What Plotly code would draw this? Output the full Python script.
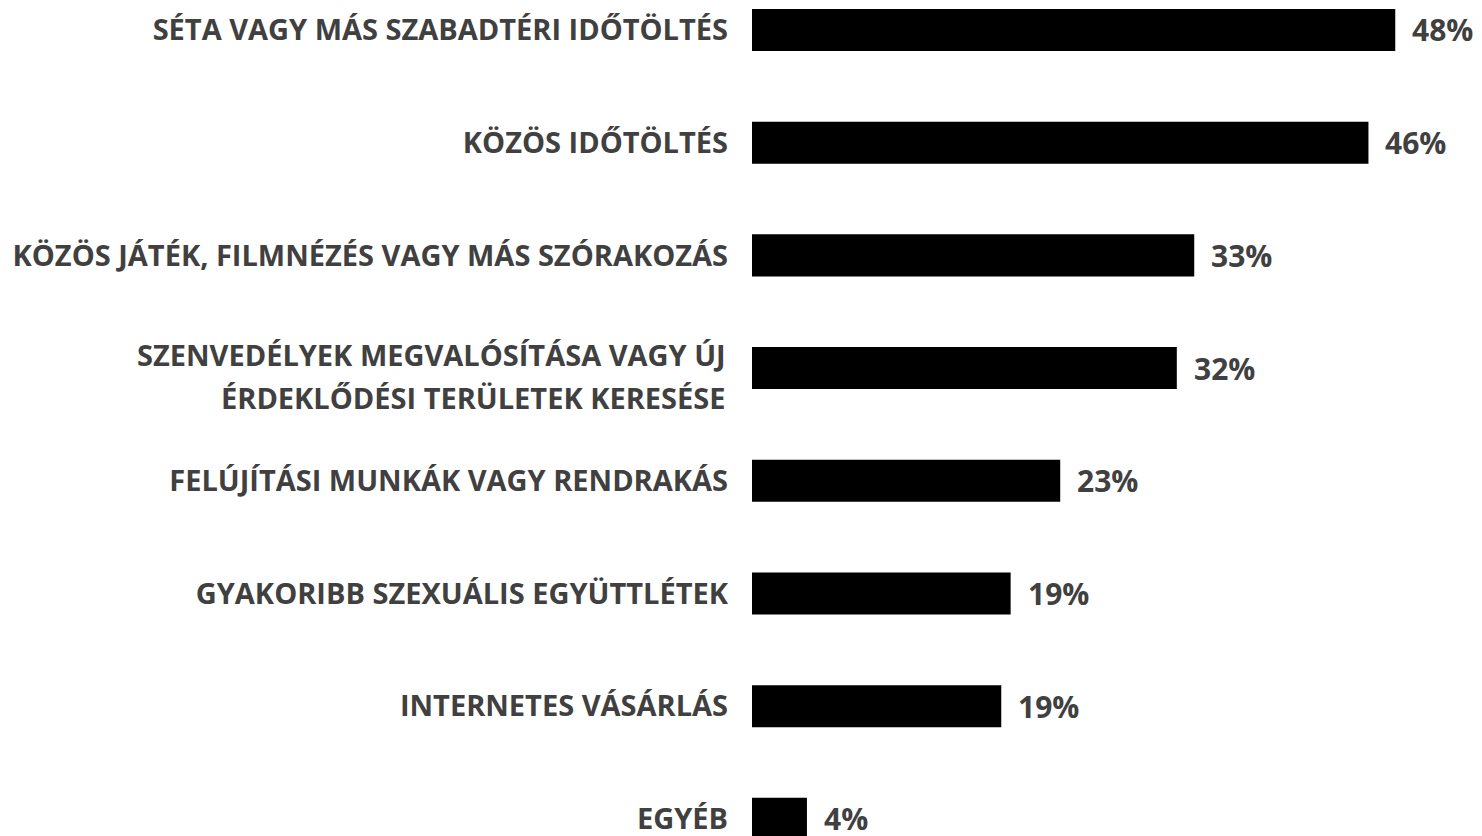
import plotly.graph_objects as go

categories = [
    "SÉTA VAGY MÁS SZABADTÉRI IDŐTÖLTÉS",
    "KÖZÖS IDŐTÖLTÉS",
    "KÖZÖS JÁTÉK, FILMNÉZÉS VAGY MÁS SZÓRAKOZÁS",
    "SZENVEDÉLYEK MEGVALÓSÍTÁSA VAGY ÚJ<br>ÉRDEKLŐDÉSI TERÜLETEK KERESÉSE",
    "FELÚJÍTÁSI MUNKÁK VAGY RENDRAKÁS",
    "GYAKORIBB SZEXUÁLIS EGYÜTTLÉTEK",
    "INTERNETES VÁSÁRLÁS",
    "EGYÉB",
]
values = [48.0, 46.0, 33.0, 31.7, 23.0, 19.3, 18.6, 4.1]
labels = ["48%", "46%", "33%", "32%", "23%", "19%", "19%", "4%"]

FONT = "Open Sans"
TEXT_COLOR = "#404040"
LABEL_SIZE = 29
VALUE_SIZE = 30

fig = go.Figure(
    go.Bar(
        x=values,
        y=categories,
        orientation="h",
        marker=dict(color="#000000", line=dict(width=0)),
        width=0.373,
        hoverinfo="skip",
    )
)

# value labels
for cat, v, lab in zip(categories, values, labels):
    fig.add_annotation(
        x=v, y=cat, text=lab, showarrow=False, xanchor="left", xshift=15,
        font=dict(family=FONT, size=VALUE_SIZE, color=TEXT_COLOR, weight="bold"),
    )

# category labels: single-line ones as tick labels, multi-line as annotations
ticktext = []
for cat in categories:
    if "<br>" in cat:
        ticktext.append("")
        lines = cat.split("<br>")
        n = len(lines)
        for i, line in enumerate(lines):
            fig.add_annotation(
                x=0, y=cat, text=line, showarrow=False, xanchor="right",
                xshift=-24, yshift=(n - 1) / 2 * 43 - i * 43 - 8,
                font=dict(family=FONT, size=LABEL_SIZE, color=TEXT_COLOR, weight="bold"),
            )
    else:
        ticktext.append(cat)

fig.update_layout(
    width=1482, height=836,
    margin=dict(l=744, r=0, t=0, b=0),
    paper_bgcolor="white", plot_bgcolor="white",
    showlegend=False,
    xaxis=dict(range=[0, 55.07], visible=False, fixedrange=True),
    yaxis=dict(
        categoryorder="array", categoryarray=categories,
        tickmode="array", tickvals=categories, ticktext=ticktext,
        range=[7.223, -0.195],
        showgrid=False, zeroline=False, showline=False, ticks="",
        ticklabelstandoff=23,
        tickfont=dict(family=FONT, size=LABEL_SIZE, color=TEXT_COLOR, weight="bold"),
    ),
)

fig.write_html("out.html")
